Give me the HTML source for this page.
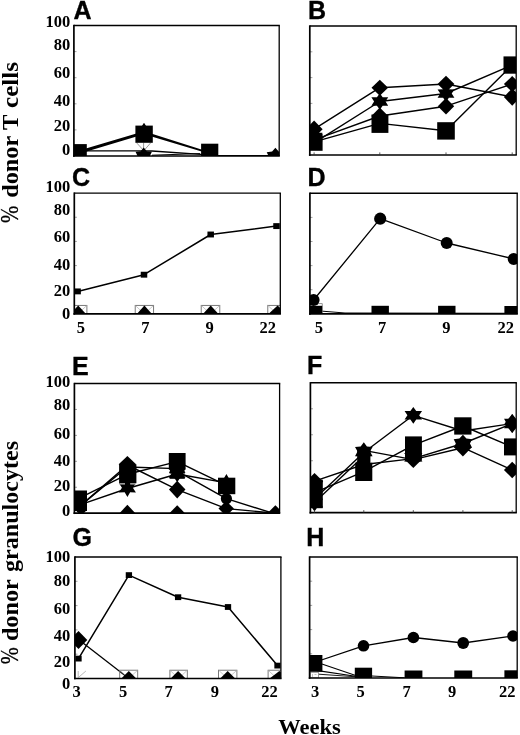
<!DOCTYPE html>
<html><head><meta charset="utf-8"><title>Figure</title>
<style>
html,body{margin:0;padding:0;background:#fff;}
body{width:520px;height:735px;overflow:hidden;font-family:"Liberation Serif",serif;}
svg{display:block;will-change:transform;}
</style></head><body>
<svg width="520" height="735" viewBox="0 0 520 735">
<rect width="520" height="735" fill="#fff"/>
<line x1="73.9" y1="129.90" x2="76.5" y2="129.90" stroke="#777" stroke-width="0.7"/>
<line x1="73.9" y1="103.80" x2="76.5" y2="103.80" stroke="#777" stroke-width="0.7"/>
<line x1="73.9" y1="77.70" x2="76.5" y2="77.70" stroke="#777" stroke-width="0.7"/>
<line x1="73.9" y1="51.60" x2="76.5" y2="51.60" stroke="#777" stroke-width="0.7"/>
<clipPath id="cA"><rect x="73.9" y="5.5" width="205.29999999999998" height="150.5"/></clipPath><g clip-path="url(#cA)">
<polyline points="80.00,150.90 136.00,150.90 152.00,151.00 201.00,154.40 218.00,155.40 275.00,155.80" fill="none" stroke="#000" stroke-width="1.4" stroke-linejoin="round"/>
<polyline points="152.00,155.20 200.00,153.60" fill="none" stroke="#000" stroke-width="1.0" stroke-linejoin="round"/>
<polygon points="80,150.2 144,131.3 210,152.3 210,154.0 144,134.2 80,153.6" fill="#000"/>
<path d="M136.5,142.7 L142.8,149.6 M150.8,142.7 L144.8,149.6 M143.6,142.7 L143.6,149.6" stroke="#555" stroke-width="0.6" fill="none"/>
<polygon points="144.00,122.80 149.50,131.30 144.00,139.80 138.50,131.30" fill="#000"/>
<rect x="135.40" y="125.60" width="17.40" height="17.20" fill="#000"/>
<rect x="73.50" y="144.10" width="13.30" height="11.90" fill="#000"/>
<rect x="201.10" y="143.70" width="17.20" height="12.30" fill="#000"/>
<polygon points="143.70,147.40 146.78,151.15 151.89,151.70 149.86,156.00 151.89,160.30 146.78,160.85 143.70,164.60 140.62,160.85 135.51,160.30 137.54,156.00 135.51,151.70 140.62,151.15" fill="#000"/>
<polygon points="275.40,147.80 278.71,151.58 284.09,152.20 282.01,156.60 284.09,161.00 278.71,161.62 275.40,165.40 272.09,161.62 266.71,161.00 268.79,156.60 266.71,152.20 272.09,151.58" fill="#000"/>
</g>
<g stroke="#000" fill="none"><line x1="73.9" y1="24.80" x2="73.9" y2="156.85" stroke-width="1.7"/><line x1="73.05" y1="156.0" x2="279.85" y2="156.0" stroke-width="1.7"/><line x1="73.9" y1="25.5" x2="279.85" y2="25.5" stroke-width="1.4"/><line x1="279.2" y1="25.5" x2="279.2" y2="156.0" stroke-width="1.3"/></g>
<line x1="309.8" y1="129.20" x2="312.40000000000003" y2="129.20" stroke="#777" stroke-width="0.7"/>
<line x1="309.8" y1="103.40" x2="312.40000000000003" y2="103.40" stroke="#777" stroke-width="0.7"/>
<line x1="309.8" y1="77.60" x2="312.40000000000003" y2="77.60" stroke="#777" stroke-width="0.7"/>
<line x1="309.8" y1="51.80" x2="312.40000000000003" y2="51.80" stroke="#777" stroke-width="0.7"/>
<clipPath id="cB"><rect x="309.8" y="6.0" width="206.40000000000003" height="149.0"/></clipPath><g clip-path="url(#cB)">
<polyline points="314.10,129.20 379.80,87.70 446.00,84.00 512.20,97.00" fill="none" stroke="#000" stroke-width="1.4" stroke-linejoin="round"/>
<polyline points="314.10,142.80 379.80,101.50 446.00,93.50 512.20,65.00" fill="none" stroke="#000" stroke-width="1.4" stroke-linejoin="round"/>
<polyline points="314.10,139.80 379.80,116.00 446.00,106.20 512.20,84.10" fill="none" stroke="#000" stroke-width="1.4" stroke-linejoin="round"/>
<polyline points="314.10,141.90 379.80,123.40 446.00,130.80 512.20,65.00" fill="none" stroke="#000" stroke-width="1.4" stroke-linejoin="round"/>
<polygon points="314.10,120.50 322.60,129.20 314.10,137.90 305.60,129.20" fill="#000"/>
<polygon points="314.10,128.60 316.92,132.76 322.47,132.80 319.74,137.00 322.47,141.20 316.92,141.24 314.10,145.40 311.28,141.24 305.73,141.20 308.47,137.00 305.73,132.80 311.28,132.76" fill="#000"/>
<rect x="305.60" y="133.50" width="17.00" height="17.30" fill="#000"/>
<polygon points="379.80,79.70 388.10,87.70 379.80,95.70 371.50,87.70" fill="#000"/>
<polygon points="379.80,93.20 382.67,97.26 388.21,97.35 385.53,101.50 388.21,105.65 382.67,105.74 379.80,109.80 376.93,105.74 371.39,105.65 374.07,101.50 371.39,97.35 376.93,97.26" fill="#000"/>
<polygon points="379.80,107.60 388.20,116.00 379.80,124.40 371.40,116.00" fill="#000"/>
<rect x="371.50" y="114.50" width="16.90" height="18.40" fill="#000"/>
<polygon points="446.00,75.80 454.40,84.00 446.00,92.20 437.60,84.00" fill="#000"/>
<polygon points="446.00,85.30 448.87,89.36 454.41,89.45 451.73,93.60 454.41,97.75 448.87,97.84 446.00,101.90 443.13,97.84 437.59,97.75 440.27,93.60 437.59,89.45 443.13,89.36" fill="#000"/>
<polygon points="446.00,97.90 454.20,106.20 446.00,114.50 437.80,106.20" fill="#000"/>
<rect x="437.20" y="122.20" width="17.60" height="17.40" fill="#000"/>
<rect x="503.50" y="56.40" width="16.50" height="17.30" fill="#000"/>
<polygon points="512.20,76.10 520.50,84.10 512.20,92.10 503.90,84.10" fill="#000"/>
<polygon points="512.20,88.30 520.50,97.00 512.20,105.70 503.90,97.00" fill="#000"/>
</g>
<g stroke="#000" fill="none"><line x1="309.8" y1="25.30" x2="309.8" y2="155.85" stroke-width="1.7"/><line x1="308.95" y1="155.0" x2="516.85" y2="155.0" stroke-width="1.7"/><line x1="309.8" y1="26.0" x2="516.85" y2="26.0" stroke-width="1.4"/><line x1="516.2" y1="26.0" x2="516.2" y2="155.0" stroke-width="1.3"/></g>
<line x1="314.1" y1="155.0" x2="314.1" y2="152.4" stroke="#333" stroke-width="0.8"/>
<line x1="379.8" y1="155.0" x2="379.8" y2="152.4" stroke="#333" stroke-width="0.8"/>
<line x1="446.0" y1="155.0" x2="446.0" y2="152.4" stroke="#333" stroke-width="0.8"/>
<line x1="512.2" y1="155.0" x2="512.2" y2="152.4" stroke="#333" stroke-width="0.8"/>
<line x1="74.3" y1="289.74" x2="76.89999999999999" y2="289.74" stroke="#777" stroke-width="0.7"/>
<line x1="74.3" y1="265.58" x2="76.89999999999999" y2="265.58" stroke="#777" stroke-width="0.7"/>
<line x1="74.3" y1="241.42" x2="76.89999999999999" y2="241.42" stroke="#777" stroke-width="0.7"/>
<line x1="74.3" y1="217.26" x2="76.89999999999999" y2="217.26" stroke="#777" stroke-width="0.7"/>
<clipPath id="cC"><rect x="74.3" y="173.1" width="206.0" height="140.79999999999998"/></clipPath><g clip-path="url(#cC)">
<polyline points="77.60,291.40 144.00,274.70 210.70,234.50 276.50,226.10" fill="none" stroke="#000" stroke-width="1.5" stroke-linejoin="round"/>
<rect x="74.35" y="288.45" width="6.50" height="5.90" fill="#000"/>
<rect x="140.75" y="271.75" width="6.50" height="5.90" fill="#000"/>
<rect x="207.45" y="231.55" width="6.50" height="5.90" fill="#000"/>
<rect x="273.25" y="223.15" width="6.50" height="5.90" fill="#000"/>
<rect x="68.5" y="305.4" width="18.40" height="8.50" stroke="#6c6c6c" stroke-width="0.9" fill="none"/>
<path d="M68.5,305.4 L77.70,313.9 M86.9,305.4 L77.70,313.9" stroke="#b0b0b0" stroke-width="0.7" fill="none"/>
<polygon points="70.40,313.90 78.20,305.60 86.00,313.90" fill="#000"/>
<rect x="135.2" y="305.4" width="18.40" height="8.50" stroke="#6c6c6c" stroke-width="0.9" fill="none"/>
<path d="M135.2,305.4 L144.40,313.9 M153.6,305.4 L144.40,313.9" stroke="#b0b0b0" stroke-width="0.7" fill="none"/>
<polygon points="136.85,313.90 144.40,305.60 151.95,313.90" fill="#000"/>
<rect x="201.2" y="305.4" width="18.60" height="8.50" stroke="#6c6c6c" stroke-width="0.9" fill="none"/>
<path d="M201.2,305.4 L210.50,313.9 M219.8,305.4 L210.50,313.9" stroke="#b0b0b0" stroke-width="0.7" fill="none"/>
<polygon points="202.90,313.90 210.70,305.60 218.50,313.90" fill="#000"/>
<rect x="267.8" y="305.4" width="18.20" height="8.50" stroke="#6c6c6c" stroke-width="0.9" fill="none"/>
<path d="M267.8,305.4 L276.90,313.9 M286,305.4 L276.90,313.9" stroke="#b0b0b0" stroke-width="0.7" fill="none"/>
<polygon points="268.40,313.90 277.60,305.60 286.80,313.90" fill="#000"/>
</g>
<g stroke="#000" fill="none"><line x1="74.3" y1="192.40" x2="74.3" y2="314.75" stroke-width="1.7"/><line x1="73.45" y1="313.9" x2="280.95" y2="313.9" stroke-width="1.7"/><line x1="74.3" y1="193.1" x2="280.95" y2="193.1" stroke-width="1.4"/><line x1="280.3" y1="193.1" x2="280.3" y2="313.9" stroke-width="1.3"/></g>
<line x1="309.9" y1="289.70" x2="312.5" y2="289.70" stroke="#777" stroke-width="0.7"/>
<line x1="309.9" y1="265.60" x2="312.5" y2="265.60" stroke="#777" stroke-width="0.7"/>
<line x1="309.9" y1="241.50" x2="312.5" y2="241.50" stroke="#777" stroke-width="0.7"/>
<line x1="309.9" y1="217.40" x2="312.5" y2="217.40" stroke="#777" stroke-width="0.7"/>
<clipPath id="cD"><rect x="309.9" y="173.3" width="207.30000000000007" height="140.5"/></clipPath><g clip-path="url(#cD)">
<polyline points="313.60,300.00 380.20,218.70 446.70,243.00 513.70,258.90" fill="none" stroke="#000" stroke-width="1.3" stroke-linejoin="round"/>
<polyline points="314.00,310.50 345.00,313.00 517.00,313.30" fill="none" stroke="#000" stroke-width="1.0" stroke-linejoin="round"/>
<rect x="308" y="303.7" width="14.2" height="9" stroke="#666" stroke-width="0.7" fill="#fff"/>
<circle cx="313.60" cy="300.00" r="6.00" fill="#000"/>
<circle cx="380.20" cy="218.70" r="6.10" fill="#000"/>
<circle cx="446.70" cy="243.00" r="6.00" fill="#000"/>
<circle cx="513.70" cy="258.90" r="6.00" fill="#000"/>
<rect x="305.00" y="305.80" width="17.20" height="8.00" fill="#000"/>
<rect x="371.50" y="305.80" width="17.40" height="8.00" fill="#000"/>
<rect x="438.10" y="305.80" width="17.40" height="8.00" fill="#000"/>
<rect x="504.40" y="306.00" width="15.60" height="7.80" fill="#000"/>
</g>
<g stroke="#000" fill="none"><line x1="309.9" y1="192.60" x2="309.9" y2="314.65" stroke-width="1.7"/><line x1="309.05" y1="313.8" x2="517.85" y2="313.8" stroke-width="1.7"/><line x1="309.9" y1="193.3" x2="517.85" y2="193.3" stroke-width="1.4"/><line x1="517.2" y1="193.3" x2="517.2" y2="313.8" stroke-width="1.3"/></g>
<line x1="74.4" y1="487.26" x2="77.0" y2="487.26" stroke="#777" stroke-width="0.7"/>
<line x1="74.4" y1="461.32" x2="77.0" y2="461.32" stroke="#777" stroke-width="0.7"/>
<line x1="74.4" y1="435.38" x2="77.0" y2="435.38" stroke="#777" stroke-width="0.7"/>
<line x1="74.4" y1="409.44" x2="77.0" y2="409.44" stroke="#777" stroke-width="0.7"/>
<clipPath id="cE"><rect x="74.4" y="363.5" width="205.20000000000002" height="149.70000000000005"/></clipPath><g clip-path="url(#cE)">
<polyline points="78.30,498.60 127.40,474.30 177.20,461.60 226.40,485.40" fill="none" stroke="#000" stroke-width="1.4" stroke-linejoin="round"/>
<polyline points="78.30,507.60 127.40,465.00 177.20,489.60 226.40,508.60 275.40,513.20" fill="none" stroke="#000" stroke-width="1.4" stroke-linejoin="round"/>
<polyline points="78.30,505.40 127.40,488.50 177.20,474.00 226.40,482.90" fill="none" stroke="#000" stroke-width="1.4" stroke-linejoin="round"/>
<polyline points="78.30,507.40 127.40,467.00 177.20,468.60" fill="none" stroke="#000" stroke-width="1.4" stroke-linejoin="round"/>
<polyline points="177.20,471.20 226.40,498.70 275.40,514.00" fill="none" stroke="#000" stroke-width="1.4" stroke-linejoin="round"/>
<rect x="69.60" y="490.50" width="17.40" height="20.50" fill="#000"/>
<circle cx="81.10" cy="508.00" r="5.60" fill="#000"/>
<polygon points="127.40,455.90 136.10,464.30 127.40,472.70 118.70,464.30" fill="#000"/>
<rect x="119.10" y="464.30" width="17.30" height="18.90" fill="#000"/>
<polygon points="127.40,478.30 130.13,483.20 135.95,483.00 132.86,487.70 135.95,492.40 130.13,492.20 127.40,497.10 124.67,492.20 118.85,492.40 121.94,487.70 118.85,483.00 124.67,483.20" fill="#000"/>
<path d="M119.3,483.8 L125,483.8 M130.2,483.8 L136.2,483.8" stroke="#c4c4c4" stroke-width="1.3"/>
<polygon points="127.40,504.80 135.60,513.40 127.40,522.00 119.20,513.40" fill="#000"/>
<rect x="168.80" y="453.00" width="16.80" height="16.60" fill="#000"/>
<polygon points="177.20,459.20 180.06,463.52 185.46,463.70 182.92,468.20 185.46,472.70 180.06,472.88 177.20,477.20 174.34,472.88 168.94,472.70 171.48,468.20 168.94,463.70 174.34,463.52" fill="#000"/>
<polygon points="177.20,464.30 180.06,468.62 185.46,468.80 182.92,473.30 185.46,477.80 180.06,477.98 177.20,482.30 174.34,477.98 168.94,477.80 171.48,473.30 168.94,468.80 174.34,468.62" fill="#000"/>
<rect x="169.60" y="472.00" width="15.20" height="1.60" fill="#000"/>
<rect x="169.60" y="476.80" width="15.20" height="2.00" fill="#000"/>
<polygon points="177.20,480.65 185.45,489.60 177.20,498.55 168.95,489.60" fill="#000"/>
<polygon points="177.20,505.20 185.20,513.40 177.20,521.60 169.20,513.40" fill="#000"/>
<polygon points="226.40,473.90 229.03,478.57 234.58,478.40 231.65,482.90 234.58,487.40 229.03,487.23 226.40,491.90 223.78,487.23 218.22,487.40 221.15,482.90 218.22,478.40 223.78,478.57" fill="#000"/>
<rect x="218.00" y="477.70" width="17.30" height="16.50" fill="#000"/>
<circle cx="226.40" cy="498.70" r="5.60" fill="#000"/>
<polygon points="226.20,501.10 233.90,508.60 226.20,516.10 218.50,508.60" fill="#000"/>
<polygon points="275.40,505.20 283.65,513.50 275.40,521.80 267.15,513.50" fill="#000"/>
</g>
<g stroke="#000" fill="none"><line x1="74.4" y1="382.80" x2="74.4" y2="514.05" stroke-width="1.7"/><line x1="73.55" y1="513.2" x2="280.25" y2="513.2" stroke-width="1.7"/><line x1="74.4" y1="383.5" x2="280.25" y2="383.5" stroke-width="1.4"/><line x1="279.6" y1="383.5" x2="279.6" y2="513.2" stroke-width="1.3"/></g>
<line x1="310.4" y1="486.72" x2="313.0" y2="486.72" stroke="#777" stroke-width="0.7"/>
<line x1="310.4" y1="460.74" x2="313.0" y2="460.74" stroke="#777" stroke-width="0.7"/>
<line x1="310.4" y1="434.76" x2="313.0" y2="434.76" stroke="#777" stroke-width="0.7"/>
<line x1="310.4" y1="408.78" x2="313.0" y2="408.78" stroke="#777" stroke-width="0.7"/>
<clipPath id="cF"><rect x="310.4" y="362.8" width="205.80000000000007" height="149.90000000000003"/></clipPath><g clip-path="url(#cF)">
<polyline points="314.50,492.70 363.80,471.70 413.30,445.20 462.90,426.00 512.20,446.90" fill="none" stroke="#000" stroke-width="1.4" stroke-linejoin="round"/>
<polyline points="314.50,499.00 363.80,452.50 413.30,415.30 462.90,431.00 512.20,423.50" fill="none" stroke="#000" stroke-width="1.4" stroke-linejoin="round"/>
<polyline points="314.50,481.20 363.80,464.50 413.30,458.60 462.90,443.50 512.20,423.50" fill="none" stroke="#000" stroke-width="1.4" stroke-linejoin="round"/>
<polyline points="314.50,502.40 363.80,456.00" fill="none" stroke="#000" stroke-width="1.4" stroke-linejoin="round"/>
<polyline points="363.80,450.40 413.30,459.60 462.90,447.70 512.20,470.00" fill="none" stroke="#000" stroke-width="1.4" stroke-linejoin="round"/>
<polygon points="314.50,472.90 323.20,481.60 314.50,490.30 305.80,481.60" fill="#000"/>
<rect x="305.80" y="479.70" width="17.00" height="28.50" fill="#000"/>
<polygon points="314.50,494.40 317.38,498.67 323.06,498.70 320.25,503.00 323.06,507.30 317.38,507.33 314.50,511.60 311.62,507.33 305.94,507.30 308.75,503.00 305.94,498.70 311.62,498.67" fill="#000"/>
<polygon points="363.80,442.20 366.93,446.58 372.59,446.90 370.06,451.60 372.59,456.30 366.93,456.62 363.80,461.00 360.67,456.62 355.01,456.30 357.54,451.60 355.01,446.90 360.67,446.58" fill="#000"/>
<rect x="357.20" y="450.00" width="13.20" height="14.00" fill="#000"/>
<rect x="355.20" y="462.70" width="17.10" height="18.30" fill="#000"/>
<polygon points="413.30,406.90 416.24,411.06 422.03,411.10 419.18,415.30 422.03,419.50 416.24,419.54 413.30,423.70 410.36,419.54 404.57,419.50 407.42,415.30 404.57,411.10 410.36,411.06" fill="#000"/>
<rect x="405.00" y="436.40" width="16.90" height="23.20" fill="#000"/>
<polygon points="413.30,448.60 416.59,452.52 422.39,452.90 419.89,457.20 422.39,461.50 416.59,461.88 413.30,465.80 410.01,461.88 404.21,461.50 406.71,457.20 404.21,452.90 410.01,452.52" fill="#000"/>
<polygon points="413.30,449.40 421.80,458.00 413.30,466.60 404.80,458.00" fill="#000"/>
<polygon points="413.30,450.80 421.90,459.40 413.30,468.00 404.70,459.40" fill="#000"/>
<rect x="454.20" y="417.30" width="17.30" height="17.30" fill="#000"/>
<polygon points="462.90,434.80 466.44,438.48 472.09,439.15 469.98,443.50 472.09,447.85 466.44,448.52 462.90,452.20 459.36,448.52 453.71,447.85 455.82,443.50 453.71,439.15 459.36,438.48" fill="#000"/>
<polygon points="462.90,439.00 471.40,447.70 462.90,456.40 454.40,447.70" fill="#000"/>
<polygon points="512.20,414.10 515.00,418.65 520.34,418.80 517.80,423.50 520.34,428.20 515.00,428.35 512.20,432.90 509.40,428.35 504.06,428.20 506.60,423.50 504.06,418.80 509.40,418.65" fill="#000"/>
<polygon points="512.20,414.10 519.90,423.50 512.20,432.90 504.50,423.50" fill="#000"/>
<rect x="504.00" y="438.40" width="16.00" height="17.00" fill="#000"/>
<polygon points="512.20,461.80 520.50,470.00 512.20,478.20 503.90,470.00" fill="#000"/>
</g>
<g stroke="#000" fill="none"><line x1="310.4" y1="382.10" x2="310.4" y2="513.55" stroke-width="1.7"/><line x1="309.55" y1="512.7" x2="516.85" y2="512.7" stroke-width="1.7"/><line x1="310.4" y1="382.8" x2="516.85" y2="382.8" stroke-width="1.4"/><line x1="516.2" y1="382.8" x2="516.2" y2="512.7" stroke-width="1.3"/></g>
<line x1="314.5" y1="512.7" x2="314.5" y2="510.1" stroke="#333" stroke-width="0.8"/>
<line x1="363.8" y1="512.7" x2="363.8" y2="510.1" stroke="#333" stroke-width="0.8"/>
<line x1="413.3" y1="512.7" x2="413.3" y2="510.1" stroke="#333" stroke-width="0.8"/>
<line x1="462.9" y1="512.7" x2="462.9" y2="510.1" stroke="#333" stroke-width="0.8"/>
<line x1="512.2" y1="512.7" x2="512.2" y2="510.1" stroke="#333" stroke-width="0.8"/>
<line x1="74.9" y1="654.20" x2="77.5" y2="654.20" stroke="#777" stroke-width="0.7"/>
<line x1="74.9" y1="629.90" x2="77.5" y2="629.90" stroke="#777" stroke-width="0.7"/>
<line x1="74.9" y1="605.60" x2="77.5" y2="605.60" stroke="#777" stroke-width="0.7"/>
<line x1="74.9" y1="581.30" x2="77.5" y2="581.30" stroke="#777" stroke-width="0.7"/>
<clipPath id="cG"><rect x="74.9" y="537.0" width="205.99999999999997" height="141.5"/></clipPath><g clip-path="url(#cG)">
<polyline points="78.50,658.60 128.90,575.10 178.10,597.20 228.00,607.00 277.50,665.60" fill="none" stroke="#000" stroke-width="1.5" stroke-linejoin="round"/>
<polyline points="78.50,639.60 128.90,678.50" fill="none" stroke="#000" stroke-width="1.3" stroke-linejoin="round"/>
<rect x="75.35" y="655.70" width="6.30" height="5.80" fill="#000"/>
<rect x="125.75" y="572.20" width="6.30" height="5.80" fill="#000"/>
<rect x="174.95" y="594.30" width="6.30" height="5.80" fill="#000"/>
<rect x="224.85" y="604.10" width="6.30" height="5.80" fill="#000"/>
<rect x="274.35" y="662.70" width="6.30" height="5.80" fill="#000"/>
<polygon points="78.50,631.00 87.30,640.00 78.50,649.00 69.70,640.00" fill="#000"/>
<path d="M78.2,671 L78.2,677.6 M78.5,677.4 L85.9,671" stroke="#9a9a9a" stroke-width="0.7" fill="none"/>
<rect x="119.7" y="670.2" width="18.00" height="8.30" stroke="#6c6c6c" stroke-width="0.9" fill="none"/>
<path d="M119.7,670.2 L128.70,678.5 M137.7,670.2 L128.70,678.5" stroke="#b0b0b0" stroke-width="0.7" fill="none"/>
<polygon points="121.30,678.50 128.80,670.90 136.30,678.50" fill="#000"/>
<rect x="169.9" y="670.2" width="17.40" height="8.30" stroke="#6c6c6c" stroke-width="0.9" fill="none"/>
<path d="M169.9,670.2 L178.60,678.5 M187.3,670.2 L178.60,678.5" stroke="#b0b0b0" stroke-width="0.7" fill="none"/>
<polygon points="170.60,678.50 178.10,670.90 185.60,678.50" fill="#000"/>
<rect x="218.5" y="670.2" width="18.40" height="8.30" stroke="#6c6c6c" stroke-width="0.9" fill="none"/>
<path d="M218.5,670.2 L227.70,678.5 M236.9,670.2 L227.70,678.5" stroke="#b0b0b0" stroke-width="0.7" fill="none"/>
<polygon points="220.20,678.50 227.70,670.90 235.20,678.50" fill="#000"/>
<rect x="268.1" y="670.2" width="17.90" height="8.30" stroke="#6c6c6c" stroke-width="0.9" fill="none"/>
<path d="M268.1,670.2 L277.05,678.5 M286,670.2 L277.05,678.5" stroke="#b0b0b0" stroke-width="0.7" fill="none"/>
<polygon points="269.60,678.50 279.40,670.90 289.20,678.50" fill="#000"/>
</g>
<g stroke="#000" fill="none"><line x1="74.9" y1="556.30" x2="74.9" y2="679.35" stroke-width="1.7"/><line x1="74.05" y1="678.5" x2="281.55" y2="678.5" stroke-width="1.7"/><line x1="74.9" y1="557.0" x2="281.55" y2="557.0" stroke-width="1.4"/><line x1="280.9" y1="557.0" x2="280.9" y2="678.5" stroke-width="1.3"/></g>
<line x1="309.6" y1="653.80" x2="312.20000000000005" y2="653.80" stroke="#777" stroke-width="0.7"/>
<line x1="309.6" y1="629.60" x2="312.20000000000005" y2="629.60" stroke="#777" stroke-width="0.7"/>
<line x1="309.6" y1="605.40" x2="312.20000000000005" y2="605.40" stroke="#777" stroke-width="0.7"/>
<line x1="309.6" y1="581.20" x2="312.20000000000005" y2="581.20" stroke="#777" stroke-width="0.7"/>
<clipPath id="cH"><rect x="309.6" y="537.0" width="207.60000000000002" height="141.0"/></clipPath><g clip-path="url(#cH)">
<polyline points="314.00,662.50 363.50,645.80 413.40,637.50 463.20,643.00 513.00,636.00" fill="none" stroke="#000" stroke-width="1.3" stroke-linejoin="round"/>
<polyline points="316.00,662.00 355.00,675.30" fill="none" stroke="#000" stroke-width="1.1" stroke-linejoin="round"/>
<polyline points="316.00,670.40 355.40,676.20" fill="none" stroke="#000" stroke-width="1.1" stroke-linejoin="round"/>
<polyline points="318.50,674.20 356.00,676.80" fill="none" stroke="#000" stroke-width="0.9" stroke-linejoin="round"/>
<polyline points="372.00,676.00 404.60,677.80" fill="none" stroke="#000" stroke-width="1.0" stroke-linejoin="round"/>
<rect x="310.4" y="672.3" width="8.1" height="5.7" stroke="#777" stroke-width="0.7" fill="#fff"/>
<path d="M312.5,674 L312.5,677 M314.5,674.5 L316.5,674.5" stroke="#999" stroke-width="0.6"/>
<circle cx="363.50" cy="645.80" r="5.80" fill="#000"/>
<circle cx="413.40" cy="637.50" r="5.80" fill="#000"/>
<circle cx="463.20" cy="643.00" r="5.90" fill="#000"/>
<circle cx="513.00" cy="636.00" r="5.80" fill="#000"/>
<rect x="305.00" y="655.00" width="17.40" height="16.80" fill="#000"/>
<rect x="354.80" y="667.70" width="17.30" height="10.30" fill="#000"/>
<rect x="404.60" y="670.50" width="17.80" height="7.50" fill="#000"/>
<rect x="454.30" y="670.50" width="17.90" height="7.50" fill="#000"/>
<rect x="504.40" y="670.30" width="15.60" height="7.70" fill="#000"/>
</g>
<g stroke="#000" fill="none"><line x1="309.6" y1="556.30" x2="309.6" y2="678.85" stroke-width="1.7"/><line x1="308.75" y1="678.0" x2="517.85" y2="678.0" stroke-width="1.7"/><line x1="309.6" y1="557.0" x2="517.85" y2="557.0" stroke-width="1.4"/><line x1="517.2" y1="557.0" x2="517.2" y2="678.0" stroke-width="1.3"/></g>
<text x="73.6" y="18.5" font-family="'Liberation Sans', sans-serif" font-size="25" font-weight="bold" text-anchor="start" stroke="#000" stroke-width="0.35">A</text>
<text x="308.0" y="18.5" font-family="'Liberation Sans', sans-serif" font-size="25" font-weight="bold" text-anchor="start" stroke="#000" stroke-width="0.35">B</text>
<text x="71.9" y="185.8" font-family="'Liberation Sans', sans-serif" font-size="25" font-weight="bold" text-anchor="start" stroke="#000" stroke-width="0.35">C</text>
<text x="307.4" y="185.8" font-family="'Liberation Sans', sans-serif" font-size="25" font-weight="bold" text-anchor="start" stroke="#000" stroke-width="0.35">D</text>
<text x="71.95" y="375.3" font-family="'Liberation Sans', sans-serif" font-size="25" font-weight="bold" text-anchor="start" stroke="#000" stroke-width="0.35">E</text>
<text x="307.1" y="373.9" font-family="'Liberation Sans', sans-serif" font-size="25" font-weight="bold" text-anchor="start" stroke="#000" stroke-width="0.35">F</text>
<text x="72.4" y="545.9" font-family="'Liberation Sans', sans-serif" font-size="25" font-weight="bold" text-anchor="start" stroke="#000" stroke-width="0.35">G</text>
<text x="306.2" y="546.0" font-family="'Liberation Sans', sans-serif" font-size="25" font-weight="bold" text-anchor="start" stroke="#000" stroke-width="0.35">H</text>
<text x="70.2" y="27.3" font-family="'Liberation Serif', serif" font-size="16.5" font-weight="bold" text-anchor="end" >100</text>
<text x="70.2" y="50.4" font-family="'Liberation Serif', serif" font-size="16.5" font-weight="bold" text-anchor="end" >80</text>
<text x="70.2" y="78.0" font-family="'Liberation Serif', serif" font-size="16.5" font-weight="bold" text-anchor="end" >60</text>
<text x="70.2" y="105.6" font-family="'Liberation Serif', serif" font-size="16.5" font-weight="bold" text-anchor="end" >40</text>
<text x="70.2" y="131.4" font-family="'Liberation Serif', serif" font-size="16.5" font-weight="bold" text-anchor="end" >20</text>
<text x="70.2" y="154.8" font-family="'Liberation Serif', serif" font-size="16.5" font-weight="bold" text-anchor="end" >0</text>
<text x="70.2" y="191.8" font-family="'Liberation Serif', serif" font-size="16.5" font-weight="bold" text-anchor="end" >100</text>
<text x="70.2" y="215.3" font-family="'Liberation Serif', serif" font-size="16.5" font-weight="bold" text-anchor="end" >80</text>
<text x="70.2" y="242.4" font-family="'Liberation Serif', serif" font-size="16.5" font-weight="bold" text-anchor="end" >60</text>
<text x="70.2" y="270.4" font-family="'Liberation Serif', serif" font-size="16.5" font-weight="bold" text-anchor="end" >40</text>
<text x="70.2" y="295.5" font-family="'Liberation Serif', serif" font-size="16.5" font-weight="bold" text-anchor="end" >20</text>
<text x="70.2" y="318.5" font-family="'Liberation Serif', serif" font-size="16.5" font-weight="bold" text-anchor="end" >0</text>
<text x="70.2" y="387.2" font-family="'Liberation Serif', serif" font-size="16.5" font-weight="bold" text-anchor="end" >100</text>
<text x="70.2" y="410.4" font-family="'Liberation Serif', serif" font-size="16.5" font-weight="bold" text-anchor="end" >80</text>
<text x="70.2" y="438.7" font-family="'Liberation Serif', serif" font-size="16.5" font-weight="bold" text-anchor="end" >60</text>
<text x="70.2" y="465.9" font-family="'Liberation Serif', serif" font-size="16.5" font-weight="bold" text-anchor="end" >40</text>
<text x="70.2" y="491.1" font-family="'Liberation Serif', serif" font-size="16.5" font-weight="bold" text-anchor="end" >20</text>
<text x="70.2" y="515.9" font-family="'Liberation Serif', serif" font-size="16.5" font-weight="bold" text-anchor="end" >0</text>
<text x="70.2" y="562.0" font-family="'Liberation Serif', serif" font-size="16.5" font-weight="bold" text-anchor="end" >100</text>
<text x="70.2" y="585.6" font-family="'Liberation Serif', serif" font-size="16.5" font-weight="bold" text-anchor="end" >80</text>
<text x="70.2" y="613.7" font-family="'Liberation Serif', serif" font-size="16.5" font-weight="bold" text-anchor="end" >60</text>
<text x="70.2" y="640.7" font-family="'Liberation Serif', serif" font-size="16.5" font-weight="bold" text-anchor="end" >40</text>
<text x="70.2" y="666.5" font-family="'Liberation Serif', serif" font-size="16.5" font-weight="bold" text-anchor="end" >20</text>
<text x="70.2" y="689.4" font-family="'Liberation Serif', serif" font-size="16.5" font-weight="bold" text-anchor="end" >0</text>
<text x="80.8" y="332.6" font-family="'Liberation Serif', serif" font-size="16.5" font-weight="bold" text-anchor="middle" >5</text>
<text x="145.3" y="332.6" font-family="'Liberation Serif', serif" font-size="16.5" font-weight="bold" text-anchor="middle" >7</text>
<text x="209.7" y="332.6" font-family="'Liberation Serif', serif" font-size="16.5" font-weight="bold" text-anchor="middle" >9</text>
<text x="267.8" y="332.6" font-family="'Liberation Serif', serif" font-size="16.5" font-weight="bold" text-anchor="middle" >22</text>
<text x="318.8" y="332.6" font-family="'Liberation Serif', serif" font-size="16.5" font-weight="bold" text-anchor="middle" >5</text>
<text x="382.2" y="332.6" font-family="'Liberation Serif', serif" font-size="16.5" font-weight="bold" text-anchor="middle" >7</text>
<text x="446.4" y="332.6" font-family="'Liberation Serif', serif" font-size="16.5" font-weight="bold" text-anchor="middle" >9</text>
<text x="505.7" y="332.6" font-family="'Liberation Serif', serif" font-size="16.5" font-weight="bold" text-anchor="middle" >22</text>
<text x="76.7" y="697.3" font-family="'Liberation Serif', serif" font-size="16.5" font-weight="bold" text-anchor="middle" >3</text>
<text x="123.1" y="697.3" font-family="'Liberation Serif', serif" font-size="16.5" font-weight="bold" text-anchor="middle" >5</text>
<text x="168.6" y="697.3" font-family="'Liberation Serif', serif" font-size="16.5" font-weight="bold" text-anchor="middle" >7</text>
<text x="214.8" y="697.3" font-family="'Liberation Serif', serif" font-size="16.5" font-weight="bold" text-anchor="middle" >9</text>
<text x="269.5" y="697.3" font-family="'Liberation Serif', serif" font-size="16.5" font-weight="bold" text-anchor="middle" >22</text>
<text x="315.2" y="697.1" font-family="'Liberation Serif', serif" font-size="16.5" font-weight="bold" text-anchor="middle" >3</text>
<text x="360.7" y="697.1" font-family="'Liberation Serif', serif" font-size="16.5" font-weight="bold" text-anchor="middle" >5</text>
<text x="406.5" y="697.1" font-family="'Liberation Serif', serif" font-size="16.5" font-weight="bold" text-anchor="middle" >7</text>
<text x="452.2" y="697.1" font-family="'Liberation Serif', serif" font-size="16.5" font-weight="bold" text-anchor="middle" >9</text>
<text x="507.2" y="697.1" font-family="'Liberation Serif', serif" font-size="16.5" font-weight="bold" text-anchor="middle" >22</text>
<text x="278.3" y="733.9" font-family="'Liberation Serif', serif" font-size="22" font-weight="bold" text-anchor="start" textLength="62.5" lengthAdjust="spacingAndGlyphs">Weeks</text>
<text transform="translate(17.5,223.0) rotate(-90)" font-family="'Liberation Serif', serif" font-size="26" font-weight="normal" textLength="17.3" lengthAdjust="spacingAndGlyphs" stroke="#000" stroke-width="0.3">%</text>
<text transform="translate(17.6,197.8) rotate(-90)" font-family="'Liberation Serif', serif" font-size="24" font-weight="bold" textLength="62.0" lengthAdjust="spacingAndGlyphs" >donor</text>
<text transform="translate(17.6,130.0) rotate(-90)" font-family="'Liberation Serif', serif" font-size="24" font-weight="bold" textLength="15.4" lengthAdjust="spacingAndGlyphs" >T</text>
<text transform="translate(17.6,108.0) rotate(-90)" font-family="'Liberation Serif', serif" font-size="24" font-weight="bold" textLength="46.0" lengthAdjust="spacingAndGlyphs" >cells</text>
<text transform="translate(17.5,664.3) rotate(-90)" font-family="'Liberation Serif', serif" font-size="26" font-weight="normal" textLength="17.0" lengthAdjust="spacingAndGlyphs" stroke="#000" stroke-width="0.3">%</text>
<text transform="translate(17.6,641.1) rotate(-90)" font-family="'Liberation Serif', serif" font-size="24" font-weight="bold" textLength="61.9" lengthAdjust="spacingAndGlyphs" >donor</text>
<text transform="translate(17.6,571.9) rotate(-90)" font-family="'Liberation Serif', serif" font-size="24" font-weight="bold" textLength="130.9" lengthAdjust="spacingAndGlyphs" >granulocytes</text>
</svg>
</body></html>
